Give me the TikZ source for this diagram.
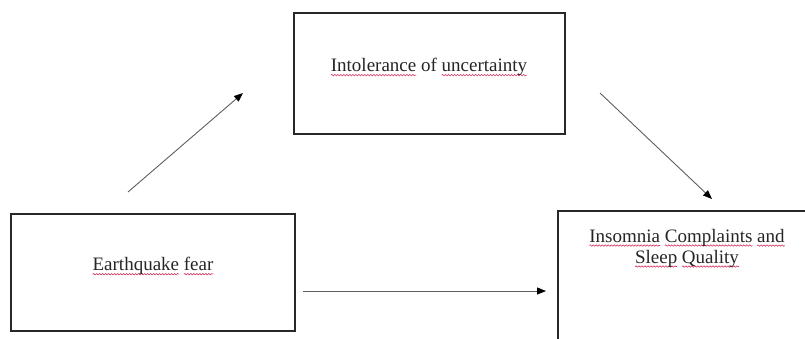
\documentclass[tikz,border=0pt]{standalone}
\usepackage{fontspec}
\setmainfont{Liberation Serif}
\usetikzlibrary{arrows.meta,decorations.pathmorphing}
\definecolor{sqred}{RGB}{214,52,96}
\definecolor{boxline}{RGB}{40,40,40}
\definecolor{arrline}{RGB}{95,95,95}
\newsavebox\sqbox
\newlength\sqlen
\newcommand\sqw[1]{\sbox\sqbox{#1}\setlength\sqlen{\wd\sqbox}\rlap{\tikz[overlay]\draw[sqred,line width=0.6pt,decorate,decoration={snake,amplitude=0.7pt,segment length=3pt}] (0pt,-3.5pt) -- (\sqlen,-3.5pt);}\usebox\sqbox}
\begin{document}
\begin{tikzpicture}[x=1pt,y=-1pt,
  box/.style={draw=boxline,line width=1.2pt,inner sep=0pt,fill=none},
  txt/.style={font=\fontsize{19}{21}\selectfont,inner sep=0pt,align=center,text=black!85},
  arr/.style={draw=arrline,line width=0.9pt,-{Triangle[length=9pt,width=7pt,color=black]}}]
\useasboundingbox (0,0) rectangle (805,338);
\clip (0,0) rectangle (805,338);
\fill[white] (0,0) rectangle (805,338);
\node[box,minimum width=271,minimum height=121] (mid) at (429.5,73.5) {};
\node[box,minimum width=284,minimum height=117] (left) at (153,272.5) {};
\node[box,minimum width=280,minimum height=150] (right) at (698,286) {};
\node[txt] (midtxt) at (429,67) {\sqw{Intolerance} of \sqw{uncertainty}};
\node[txt] (lefttxt) at (153,266) {\sqw{Earthquake} \sqw{fear}};
\node[txt] (righttxt) at (687,248) {\sqw{Insomnia} \sqw{Complaints} \sqw{and}\\\sqw{Sleep} \sqw{Quality}};
\coordinate (a1s) at (128,192);
\coordinate (a1e) at (243,93);
\coordinate (a2s) at (600,93);
\coordinate (a2e) at (712,199);
\coordinate (a3s) at (303,291);
\coordinate (a3e) at (546,291);
\draw[arr] (a1s) -- (a1e);
\draw[arr] (a2s) -- (a2e);
\draw[arr] (a3s) -- (a3e);
\end{tikzpicture}
\end{document}
